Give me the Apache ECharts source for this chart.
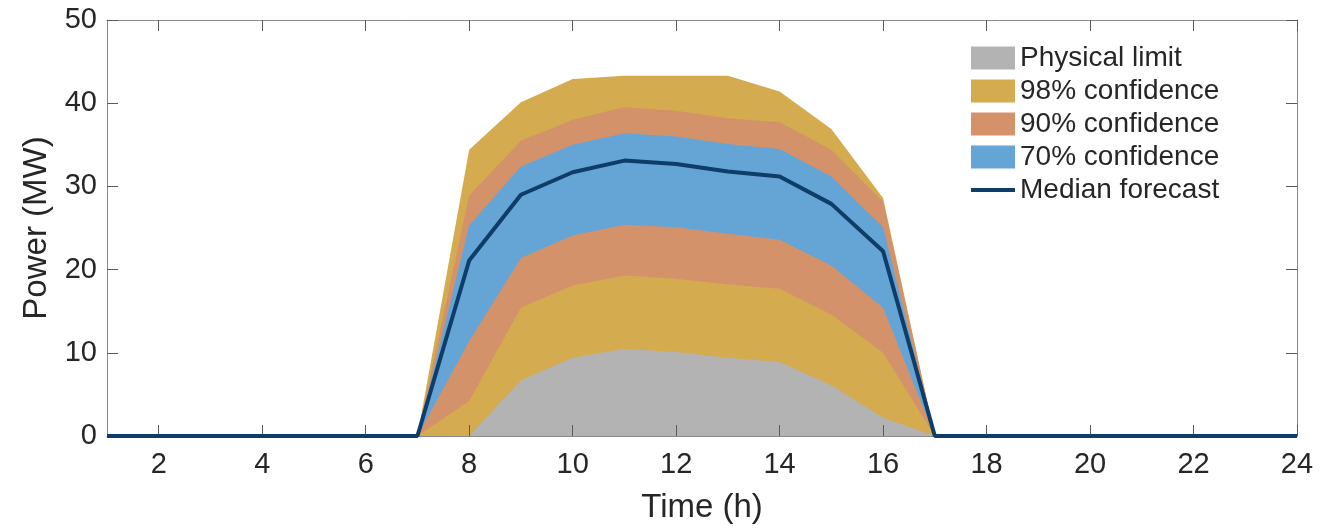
<!DOCTYPE html>
<html>
<head>
<meta charset="utf-8">
<script src="https://cdn.jsdelivr.net/npm/echarts@6/dist/echarts.min.js"></script>
<style>
html,body{margin:0;padding:0;background:#fff;}
#c{width:1320px;height:529px;}
</style>
</head>
<body>
<div id="c"></div>
<script>
// Hours of the day
const hours = [1,2,3,4,5,6,7,8,9,10,11,12,13,14,15,16,17,18,19,20,21,22,23,24];
// Upper / lower confidence bounds and median (MW)
const upper98 = [0,0,0,0,0,0,0,34.4,40.1,42.9,43.3,43.3,43.3,41.4,36.9,28.6,0,0,0,0,0,0,0,0];
const upper90 = [0,0,0,0,0,0,0,28.9,35.5,38.0,39.5,39.1,38.2,37.7,34.4,28.2,0,0,0,0,0,0,0,0];
const upper70 = [0,0,0,0,0,0,0,25.3,32.4,35.0,36.4,36.0,35.1,34.5,31.2,25.1,0,0,0,0,0,0,0,0];
const median  = [0,0,0,0,0,0,0,21.1,29.0,31.7,33.1,32.7,31.8,31.2,27.9,22.2,0,0,0,0,0,0,0,0];
const lower70 = [0,0,0,0,0,0,0,11.4,21.4,24.1,25.4,25.1,24.3,23.6,20.5,15.4,0,0,0,0,0,0,0,0];
const lower90 = [0,0,0,0,0,0,0,4.2,15.4,18.1,19.3,18.9,18.2,17.7,14.6,10.0,0,0,0,0,0,0,0,0];
const physicalLimit = [0,0,0,0,0,0,0,0,6.7,9.4,10.5,10.1,9.4,8.9,6.1,2.2,0,0,0,0,0,0,0,0];
// Tick labels
const xTicks = [2,4,6,8,10,12,14,16,18,20,22,24];
const yTicks = [0,10,20,30,40,50];

const FONT = '"Liberation Sans", Arial, Helvetica, sans-serif';
const C_GREY = '#b3b3b3', C_YEL = '#d4ab4e', C_ORA = '#d4926b', C_BLUE = '#64a5d6', C_MED = '#0d3d68';
const axisGrey = '#8a8a8a';
const textCol = '#262626';

const pairs = arr => hours.map((h, i) => [h, arr[i]]);

function area(name, arr, color, z) {
  return {
    name: name, type: 'line', data: pairs(arr), color: color,
    symbol: 'none', z: z, silent: true,
    lineStyle: { width: 0, color: color },
    areaStyle: { color: color, opacity: 1 },
    animation: false
  };
}

const chart = echarts.init(document.getElementById('c'), null, { renderer: 'canvas' });
chart.setOption({
  animation: false,
  textStyle: { fontFamily: FONT },
  grid: { left: 107, right: 23, top: 20, bottom: 88, containLabel: false },
  legend: {
    orient: 'vertical', left: 971, top: 44, padding: 0,
    itemWidth: 44, itemHeight: 23, itemGap: 5,
    textStyle: { fontSize: 28, color: textCol, fontFamily: FONT },
    data: [
      { name: 'Physical limit', icon: 'rect' },
      { name: '98% confidence', icon: 'rect' },
      { name: '90% confidence', icon: 'rect' },
      { name: '70% confidence', icon: 'rect' },
      { name: 'Median forecast', icon: 'path://M0,0H44V4H0Z' }
    ]
  },
  xAxis: [{
    type: 'value', min: 1, max: 24, z: 10,
    name: 'Time (h)', nameLocation: 'middle', nameGap: 55,
    nameTextStyle: { fontSize: 33, color: textCol, fontFamily: FONT },
    axisLine: { show: true, onZero: false, lineStyle: { color: axisGrey, width: 1 } },
    axisTick: { show: true, inside: true, length: 11, customValues: xTicks, lineStyle: { color: '#5a5a5a' } },
    axisLabel: { customValues: xTicks, fontSize: 29, color: textCol, margin: 14, fontFamily: FONT },
    splitLine: { show: false }
  }, {
    type: 'value', min: 1, max: 24, position: 'top', z: 10,
    axisLine: { show: true, onZero: false, lineStyle: { color: axisGrey, width: 1 } },
    axisTick: { show: true, inside: true, length: 11, customValues: xTicks, lineStyle: { color: '#5a5a5a' } },
    axisLabel: { show: false }, splitLine: { show: false }
  }],
  yAxis: [{
    type: 'value', min: 0, max: 50, interval: 10, z: 10,
    name: 'Power (MW)', nameLocation: 'middle', nameGap: 47, nameRotate: 90,
    nameTextStyle: { fontSize: 33, color: textCol, fontFamily: FONT },
    axisLine: { show: true, onZero: false, lineStyle: { color: axisGrey, width: 1 } },
    axisTick: { show: true, inside: true, length: 11, lineStyle: { color: '#5a5a5a' } },
    axisLabel: { fontSize: 29, color: textCol, margin: 10, fontFamily: FONT,
      formatter: v => (yTicks.indexOf(v) >= 0 ? String(v) : '') },
    splitLine: { show: false }
  }, {
    type: 'value', min: 0, max: 50, interval: 10, position: 'right', z: 10,
    axisLine: { show: true, onZero: false, lineStyle: { color: axisGrey, width: 1 } },
    axisTick: { show: true, inside: true, length: 11, lineStyle: { color: '#5a5a5a' } },
    axisLabel: { show: false }, splitLine: { show: false }
  }],
  series: [
    area('98% confidence', upper98, C_YEL, 1),
    area('90% confidence', upper90, C_ORA, 2),
    area('70% confidence', upper70, C_BLUE, 3),
    area('90% confidence', lower70, C_ORA, 4),
    area('98% confidence', lower90, C_YEL, 5),
    area('Physical limit', physicalLimit, C_GREY, 6),
    {
      name: 'Median forecast', type: 'line', data: pairs(median), color: C_MED,
      symbol: 'none', z: 20,
      lineStyle: { width: 4, color: C_MED },
      animation: false
    }
  ]
});
</script>
</body>
</html>
